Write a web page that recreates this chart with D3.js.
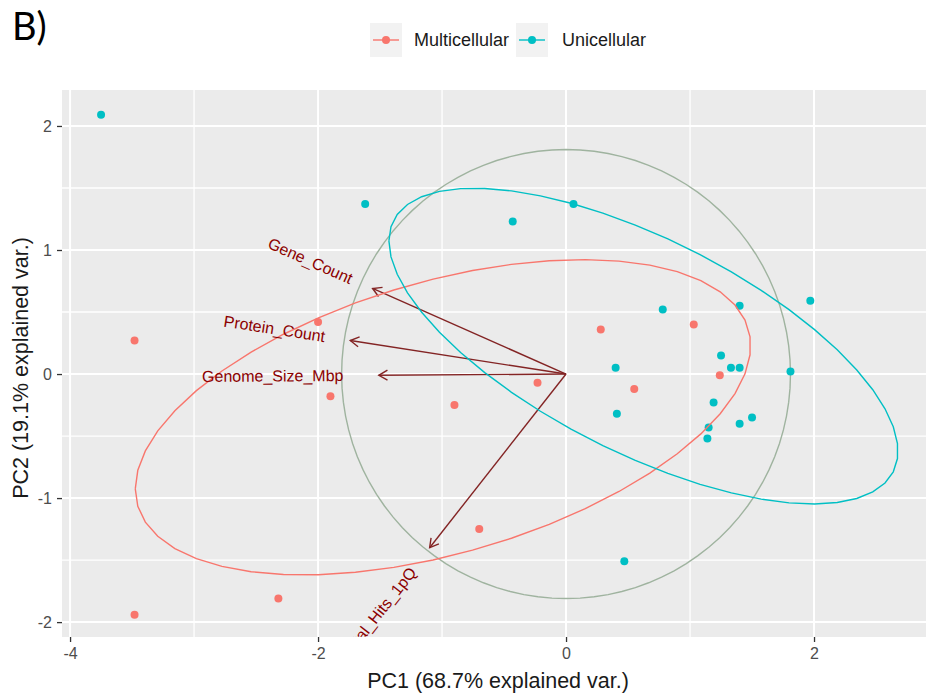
<!DOCTYPE html>
<html>
<head>
<meta charset="utf-8">
<script src="https://cdn.jsdelivr.net/npm/d3@7"></script>
<style>
  html, body { margin: 0; padding: 0; background: #ffffff; }
  svg { display: block; }
</style>
</head>
<body>
<svg id="chart" width="926" height="695"></svg>
<script>
// PCA biplot of genome features, grouped by cellularity

const groups = ["Multicellular", "Unicellular"];
const groupColors = ["#F8766D", "#00BFC4"];

// PC scores per group
const multiPC1 = [-3.48, -2.00, -1.90, -0.90, -0.23, 0.28, 1.03, 1.24, 0.55, -0.70, -2.32, -3.48];
const multiPC2 = [0.27, 0.42, -0.18, -0.25, -0.07, 0.36, 0.40, -0.01, -0.12, -1.25, -1.81, -1.94];

const uniPC1 = [-3.75, -1.62, -0.43, 0.06, 0.78, 1.40, 1.97, 0.40, 1.25, 1.33, 1.40, 1.81, 0.41, 1.19, 1.15, 1.14, 1.40, 1.50, 0.47];
const uniPC2 = [2.09, 1.37, 1.23, 1.37, 0.52, 0.55, 0.59, 0.05, 0.15, 0.05, 0.05, 0.02, -0.32, -0.23, -0.43, -0.52, -0.40, -0.35, -1.51];

// variable loadings (arrows)
const varNames = ["Gene_Count", "Protein_Count", "Genome_Size_Mbp", "Total_Hits_1pQ"];
const loadPC1 = [-1.56, -1.74, -1.51, -1.10];
const loadPC2 = [0.69, 0.27, -0.01, -1.40];

// correlation circle radius
const circleRadius = 1.81;
const ellipseProb = 0.68;

const xTicks = [-4, -2, 0, 2];
const yTicks = [-2, -1, 0, 1, 2];
const xMinor = [-3, -1, 1];
const yMinor = [-1.5, -0.5, 0.5, 1.5];

const xLabel = "PC1 (68.7% explained var.)";
const yLabel = "PC2 (19.1% explained var.)";
const panelTag = "B)";

// layout
const panel = { left: 62, top: 90, right: 926, bottom: 637 };

const x = d3.scaleLinear().domain([-4.065, 2.903]).range([panel.left, panel.right]);
const y = d3.scaleLinear().domain([-2.12, 2.29]).range([panel.bottom, panel.top]);

const svg = d3.select("#chart");
const font = "'Liberation Sans', Arial, sans-serif";

// panel background
svg.append("rect")
  .attr("x", panel.left).attr("y", panel.top)
  .attr("width", panel.right - panel.left).attr("height", panel.bottom - panel.top)
  .attr("fill", "#EBEBEB");

svg.append("clipPath").attr("id", "panelClip")
  .append("rect")
  .attr("x", panel.left).attr("y", panel.top)
  .attr("width", panel.right - panel.left).attr("height", panel.bottom - panel.top);

// grid
const grid = svg.append("g");
grid.selectAll("line.xminor").data(xMinor).join("line")
  .attr("x1", d => x(d)).attr("x2", d => x(d))
  .attr("y1", panel.top).attr("y2", panel.bottom)
  .attr("stroke", "#fff").attr("stroke-width", 1.3);
grid.selectAll("line.yminor").data(yMinor).join("line")
  .attr("y1", d => y(d)).attr("y2", d => y(d))
  .attr("x1", panel.left).attr("x2", panel.right)
  .attr("stroke", "#fff").attr("stroke-width", 1.3);
grid.selectAll("line.xmajor").data(xTicks).join("line")
  .attr("x1", d => x(d)).attr("x2", d => x(d))
  .attr("y1", panel.top).attr("y2", panel.bottom)
  .attr("stroke", "#fff").attr("stroke-width", 2);
grid.selectAll("line.ymajor").data(yTicks).join("line")
  .attr("y1", d => y(d)).attr("y2", d => y(d))
  .attr("x1", panel.left).attr("x2", panel.right)
  .attr("stroke", "#fff").attr("stroke-width", 2);

// axes
const xAxis = svg.append("g")
  .attr("transform", `translate(0,${panel.bottom})`)
  .call(d3.axisBottom(x).tickValues(xTicks).tickSize(5).tickPadding(6));
const yAxis = svg.append("g")
  .attr("transform", `translate(${panel.left},0)`)
  .call(d3.axisLeft(y).tickValues(yTicks).tickSize(5).tickPadding(5));
[xAxis, yAxis].forEach(ax => {
  ax.select(".domain").remove();
  ax.selectAll(".tick line").attr("stroke", "#333333").attr("stroke-width", 1.3);
  ax.selectAll(".tick text")
    .attr("fill", "#4D4D4D")
    .style("font-family", font)
    .style("font-size", "16px")
    .text(d => String(d));
});

// axis titles
svg.append("text")
  .attr("x", 498).attr("y", 688)
  .attr("text-anchor", "middle")
  .style("font-family", font).style("font-size", "21.5px")
  .attr("fill", "#1a1a1a")
  .text(xLabel);
svg.append("text")
  .attr("transform", "translate(28,368) rotate(-90)")
  .attr("text-anchor", "middle")
  .style("font-family", font).style("font-size", "21.5px")
  .attr("fill", "#1a1a1a")
  .text(yLabel);

const plot = svg.append("g").attr("clip-path", "url(#panelClip)");

// correlation circle
const circleSteps = d3.range(0, 101).map(i => -Math.PI + 2 * Math.PI * i / 100);
plot.append("path")
  .datum(circleSteps.map(t => [circleRadius * Math.cos(t), circleRadius * Math.sin(t)]))
  .attr("d", d3.line().x(d => x(d[0])).y(d => y(d[1])))
  .attr("fill", "none")
  .attr("stroke", "#9fb39f")
  .attr("stroke-width", 1.4);

// loading arrows
const arrowColor = "#832424";
const arrows = plot.append("g");
varNames.forEach((name, i) => {
  const x0 = x(0), y0 = y(0), x1 = x(loadPC1[i]), y1 = y(loadPC2[i]);
  arrows.append("line")
    .attr("x1", x0).attr("y1", y0).attr("x2", x1).attr("y2", y1)
    .attr("stroke", arrowColor).attr("stroke-width", 1.4);
  const ang = Math.atan2(y0 - y1, x0 - x1);
  const headLen = 10, spread = Math.PI / 6;
  const pts = [
    [x1 + headLen * Math.cos(ang + spread), y1 + headLen * Math.sin(ang + spread)],
    [x1, y1],
    [x1 + headLen * Math.cos(ang - spread), y1 + headLen * Math.sin(ang - spread)]
  ];
  arrows.append("path")
    .attr("d", d3.line()(pts))
    .attr("fill", "none")
    .attr("stroke", arrowColor).attr("stroke-width", 1.4);
});

// points
const groupData = [
  { name: groups[0], color: groupColors[0], xs: multiPC1, ys: multiPC2 },
  { name: groups[1], color: groupColors[1], xs: uniPC1, ys: uniPC2 }
];
groupData.forEach(g => {
  plot.append("g").selectAll("circle")
    .data(g.xs.map((v, i) => [v, g.ys[i]]))
    .join("circle")
    .attr("cx", d => x(d[0])).attr("cy", d => y(d[1]))
    .attr("r", 4)
    .attr("fill", g.color);
});

// normal-probability ellipses from each group's covariance
const ed = Math.sqrt(-2 * Math.log(1 - ellipseProb));
groupData.forEach(g => {
  const n = g.xs.length;
  const mx = d3.mean(g.xs), my = d3.mean(g.ys);
  let sxx = 0, syy = 0, sxy = 0;
  for (let i = 0; i < n; i++) {
    sxx += (g.xs[i] - mx) ** 2;
    syy += (g.ys[i] - my) ** 2;
    sxy += (g.xs[i] - mx) * (g.ys[i] - my);
  }
  sxx /= n - 1; syy /= n - 1; sxy /= n - 1;
  // Cholesky (upper): R = [[a, b],[0, c]]
  const a = Math.sqrt(sxx), b = sxy / a, c = Math.sqrt(syy - b * b);
  const thetas = d3.range(0, 50).map(i => -Math.PI + 2 * Math.PI * i / 49);
  const pts = thetas.map(t => {
    const u = Math.cos(t), v = Math.sin(t);
    return [mx + ed * (u * a), my + ed * (u * b + v * c)];
  });
  plot.append("path")
    .datum(pts)
    .attr("d", d3.line().x(d => x(d[0])).y(d => y(d[1])))
    .attr("fill", "none")
    .attr("stroke", g.color)
    .attr("stroke-width", 1.4);
});

// variable names, rotated along each arrow
const varAdjust = 1.5;
varNames.forEach((name, i) => {
  const vx = loadPC1[i], vy = loadPC2[i];
  const angleDeg = Math.atan(vy / vx) * 180 / Math.PI;
  const hjust = (1 - varAdjust * Math.sign(vx)) / 2;
  const t = plot.append("text")
    .style("font-family", font).style("font-size", "16px")
    .attr("fill", "#8B0000")
    .attr("dominant-baseline", "central")
    .text(name);
  const w = t.node().getComputedTextLength();
  t.attr("transform", `translate(${x(vx)},${y(vy)}) rotate(${-angleDeg}) translate(${-hjust * w},0)`);
});

// legend
const legend = svg.append("g");
const keyCenters = [386, 532];
const labelX = [414, 562];
groupData.forEach((g, i) => {
  const cx = keyCenters[i], cy = 40;
  legend.append("rect")
    .attr("x", cx - 16).attr("y", cy - 17).attr("width", 32).attr("height", 34)
    .attr("fill", "#F2F2F2");
  legend.append("line")
    .attr("x1", cx - 13).attr("x2", cx + 13).attr("y1", cy).attr("y2", cy)
    .attr("stroke", g.color).attr("stroke-width", 1.4);
  legend.append("circle").attr("cx", cx).attr("cy", cy).attr("r", 4).attr("fill", g.color);
  legend.append("text")
    .attr("x", labelX[i]).attr("y", cy)
    .attr("dominant-baseline", "central")
    .style("font-family", font).style("font-size", "18px")
    .attr("fill", "#1a1a1a")
    .text(g.name);
});

// panel tag
svg.append("text")
  .attr("x", 12).attr("y", 40)
  .style("font-family", "Lato, 'Open Sans', sans-serif").style("font-size", "38px")
  .attr("fill", "#000")
  .text(panelTag);
</script>
</body>
</html>
